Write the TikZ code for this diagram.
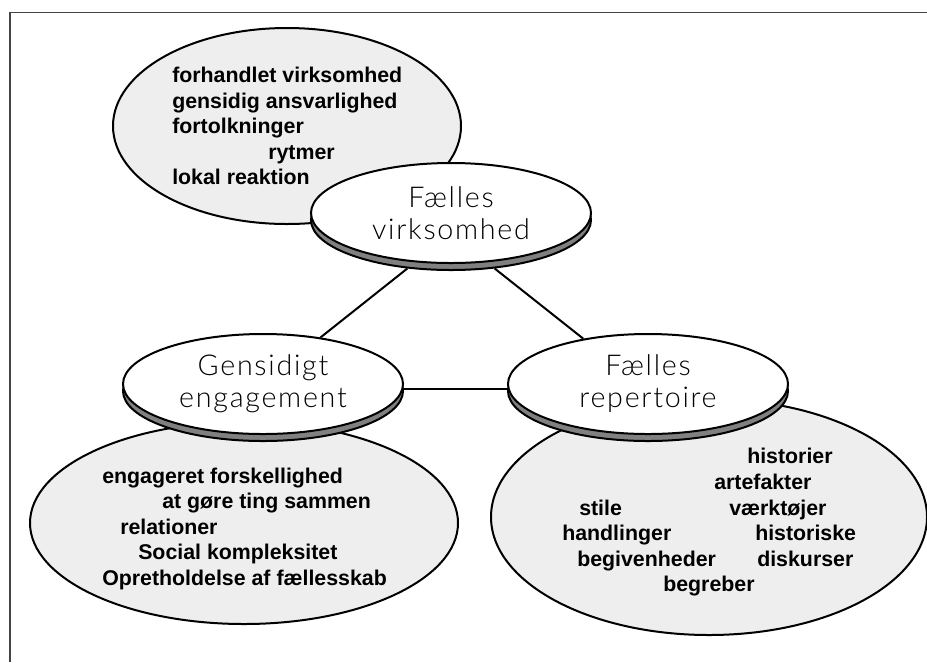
\documentclass[tikz,border=0pt]{standalone}
\usepackage{fontspec}
\setmainfont{Liberation Sans}
\newfontfamily\headfont{Lato Light}[LetterSpace=6]
\usetikzlibrary{shapes.geometric}
\definecolor{bubblegray}{HTML}{EEEEEE}
\definecolor{rimgray}{HTML}{808080}
\definecolor{framegray}{HTML}{444444}

\begin{document}
\begin{tikzpicture}[x=0.75pt,y=-0.75pt,
    bubble/.style={ellipse,draw=black,line width=1.5pt,fill=bubblegray,inner sep=0pt},
    rim/.style={ellipse,draw=black,line width=1.5pt,fill=rimgray,minimum width=210pt,minimum height=75pt,inner sep=0pt},
    head/.style={rim,fill=white,align=center,text=black,font=\headfont\fontsize{21.5}{24}\selectfont},
    item/.style={anchor=base west,inner sep=0pt,font=\bfseries\fontsize{16}{19}\selectfont},
    link/.style={line width=1.5pt}]
\useasboundingbox (0,0) rectangle (927,662);
\draw[framegray,line width=1pt] (10,662) -- (10,12.5) -- (927,12.5);

\node[bubble,minimum width=261pt,minimum height=147pt] (virkbub) at (287,126) {};
\node[rim] (virkrim) at (451,220) {};
\node[head] (virk) at (451,213) {Fælles\\virksomhed};

\node[bubble,minimum width=321pt,minimum height=151.5pt] (gensbub) at (244,523) {};
\node[rim] (gensrim) at (263,391) {};
\node[head] (gens) at (263,384) {Gensidigt\\engagement};

\node[bubble,minimum width=327pt,minimum height=177pt] (repbub) at (709,517) {};
\node[rim] (reprim) at (648,391) {};
\node[head] (rep) at (648,384) {Fælles\\repertoire};

\draw[link] (virkrim.-132) -- (gens.39);
\draw[link] (virkrim.-48) -- (rep.145);
\draw[link] (gens.-2) -- (rep.182);

\foreach \x/\y/\t [count=\i] in {172/82.7/forhandlet virksomhed,172/108.2/gensidig ansvarlighed,
    172/133.7/fortolkninger,268/159.2/rytmer,172/184.7/lokal reaktion}
    \node[item] (virkitem\i) at (\x,\y) {\t};

\foreach \x/\y/\t [count=\i] in {102/483/engageret forskellighed,162/508.5/at gøre ting sammen,
    120/534/relationer,138/559.5/Social kompleksitet,102/585/Opretholdelse af fællesskab}
    \node[item] (gensitem\i) at (\x,\y) {\t};

\foreach \x/\y/\t [count=\i] in {747/463.3/historier,714/489.3/artefakter,579/515/stile,729/515/værktøjer,
    562/540.5/handlinger,755/540.5/historiske,577/566/begivenheder,757/566/diskurser,663/591.5/begreber}
    \node[item] (repitem\i) at (\x,\y) {\t};
\end{tikzpicture}
\end{document}
